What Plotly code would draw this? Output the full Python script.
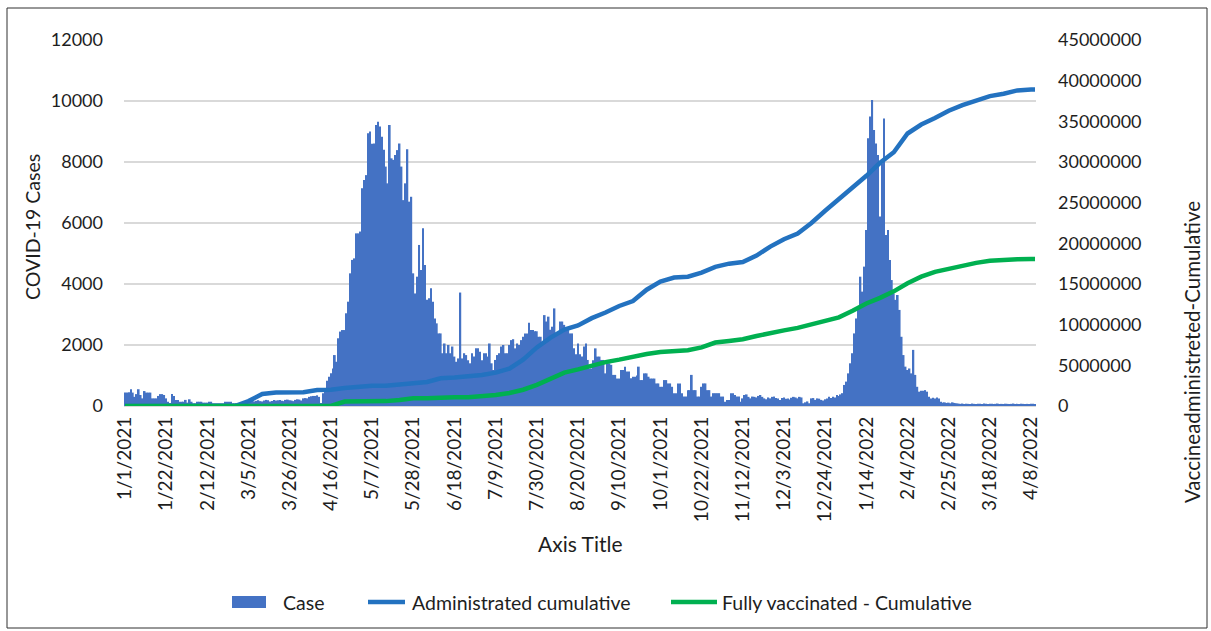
import pandas as pd
import plotly.graph_objects as go

# Daily COVID-19 cases, 1/1/2021 .. 4/10/2022
start_date = "2021-01-01"
cases = [
    440, 440, 450, 550, 440, 300, 390, 550, 360, 250,
    490, 440, 440, 440, 250, 250, 250, 330, 390, 390,
    360, 250, 140, 100, 390, 330, 200, 200, 140, 140,
    140, 200, 110, 220, 140, 90, 90, 140, 140, 140,
    110, 110, 110, 140, 140, 90, 90, 90, 90, 90,
    90, 140, 140, 140, 140, 90, 90, 90, 90, 90,
    110, 160, 150, 180, 150, 200, 150, 170, 190, 160,
    150, 180, 200, 190, 150, 160, 200, 180, 190, 200,
    170, 160, 200, 210, 190, 180, 160, 200, 220, 210,
    180, 250, 260, 250, 300, 320, 330, 330, 350, 300,
    100, 415, 580, 830, 960, 1070, 1230, 1670, 1450, 2220,
    2440, 2490, 2490, 3040, 3420, 4350, 4790, 4840, 5660, 5660,
    5720, 7140, 7410, 7570, 8940, 9000, 8600, 8610, 9210, 9320,
    9160, 8830, 8400, 7850, 7300, 9210, 8120, 8070, 8230, 8390,
    8610, 7850, 6750, 7300, 8420, 6700, 6860, 4350, 3690, 4240,
    5280, 4460, 5830, 4620, 3480, 3530, 3860, 3420, 2870, 2710,
    2380, 2380, 1730, 2050, 1730, 2000, 1730, 1950, 1620, 1450,
    1560, 3720, 1560, 1730, 1670, 1500, 1400, 1730, 1620, 1890,
    1890, 1780, 1500, 1730, 1730, 1620, 2050, 1400, 1180, 1510,
    1670, 1730, 1950, 2000, 1730, 1730, 2000, 2160, 2190, 1890,
    2050, 2000, 2160, 2270, 2380, 2380, 2730, 2490, 2490, 2450,
    2450, 2270, 2270, 2000, 2980, 2770, 2930, 2500, 2600, 3200,
    2380, 2380, 2770, 2770, 2660, 2490, 2490, 2380, 2380, 1890,
    1700, 2050, 1700, 1620, 1950, 2050, 1510, 1230, 1230, 1500,
    1890, 1620, 1620, 1510, 1510, 1070, 1400, 1400, 1350, 1020,
    1020, 900, 900, 1180, 1180, 1290, 1130, 1130, 910, 960,
    960, 1000, 1290, 850, 850, 1070, 1070, 960, 900, 900,
    900, 740, 740, 630, 630, 850, 850, 740, 740, 630,
    420, 420, 740, 740, 420, 310, 310, 520, 520, 1020,
    520, 520, 310, 310, 630, 740, 740, 520, 520, 310,
    420, 420, 420, 420, 310, 310, 140, 200, 200, 420,
    420, 360, 310, 310, 140, 250, 360, 380, 300, 250,
    310, 300, 280, 330, 360, 300, 250, 220, 280, 250,
    300, 310, 260, 250, 200, 260, 280, 240, 250, 210,
    270, 300, 280, 250, 300, 280, 90, 120, 150, 90,
    250, 260, 200, 250, 240, 200, 180, 220, 250, 300,
    260, 300, 280, 360, 330, 380, 420, 690, 800, 1070,
    1400, 1730, 2380, 2870, 3150, 4240, 3750, 4570, 5770, 8780,
    9490, 10030, 9050, 8610, 8230, 6210, 7960, 9430, 5610, 5770,
    4790, 4130, 3690, 3480, 3640, 3150, 2270, 1670, 1290, 1180,
    1230, 1070, 1840, 1020, 630, 470, 500, 500, 520, 470,
    300, 250, 270, 250, 280, 250, 140, 110, 120, 100,
    110, 90, 120, 100, 90, 80, 70, 80, 60, 75,
    70, 65, 80, 70, 60, 75, 70, 65, 80, 70,
    60, 70, 75, 65, 70, 80, 60, 70, 65, 75,
    70, 60, 70, 80, 65, 70, 60, 75, 70, 65,
    70, 60, 75, 70, 65,
]
case_dates = pd.date_range(start_date, periods=len(cases), freq="D")

# Weekly vaccination totals (every 7 days from 1/1/2021, plus the last report day)
vax_dates = list(pd.date_range(start_date, periods=67, freq="7D")) + [pd.Timestamp("2022-04-10")]
administered_cum = [
    0, 0, 0, 0, 0, 0, 0, 0, 0,
    600000, 1470000, 1650000, 1650000, 1700000, 1970000, 2000000, 2200000, 2400000, 2500000,
    2500000, 2600000, 2800000, 2950000, 3400000, 3500000, 3600000, 3800000, 4100000, 4600000,
    5700000, 7200000, 8400000, 9400000, 9900000, 10800000, 11500000, 12300000, 12900000, 14300000,
    15300000, 15800000, 15900000, 16400000, 17100000, 17500000, 17700000, 18500000, 19600000, 20500000,
    21200000, 22500000, 24000000, 25400000, 26800000, 28300000, 29900000, 31200000, 33500000, 34600000,
    35400000, 36300000, 37000000, 37600000, 38100000, 38400000, 38800000, 38900000,
    38900000,
]
fully_vaccinated_cum = [
    0, 0, 0, 0, 0, 0, 0, 0, 0, 0, 0, 0, 0, 0, 0, 0,
    550000, 550000, 550000, 600000, 750000, 940000, 940000, 1070000, 1070000, 1070000,
    1150000, 1350000, 1600000, 2000000, 2600000, 3400000, 4100000, 4500000, 5000000, 5400000,
    5700000, 6100000, 6400000, 6650000, 6750000, 6850000, 7200000, 7800000, 8000000, 8200000,
    8600000, 9000000, 9300000, 9600000, 10000000, 10400000, 10900000, 11700000, 12600000, 13300000,
    14100000, 15100000, 15900000, 16500000, 16900000, 17300000, 17600000, 17850000, 18000000, 18050000,
    18070000,
    18070000,
]

# Axis ticks
x_tick_dates = list(pd.date_range(start_date, "2022-04-08", freq="21D"))
x_tick_labels = [
    "1/1/2021", "1/22/2021", "2/12/2021", "3/5/2021", "3/26/2021", "4/16/2021",
    "5/7/2021", "5/28/2021", "6/18/2021", "7/9/2021", "7/30/2021", "8/20/2021",
    "9/10/2021", "10/1/2021", "10/22/2021", "11/12/2021", "12/3/2021", "12/24/2021",
    "1/14/2022", "2/4/2022", "2/25/2022", "3/18/2022", "4/8/2022",
]
left_ticks = [0, 2000, 4000, 6000, 8000, 10000, 12000]
right_ticks = [0, 5000000, 10000000, 15000000, 20000000, 25000000, 30000000, 35000000, 40000000, 45000000]

series_names = ["Case", "Administrated cumulative", "Fully vaccinated - Cumulative"]
series_colors = ["#4472C4", "#2372C0", "#00B050"]

FONT = "Lato"
TXT = "#1e1e1e"

fig = go.Figure()
fig.add_trace(go.Bar(
    x=case_dates, y=cases, name=series_names[0],
    marker=dict(color=series_colors[0], line=dict(width=0)),
))
fig.add_trace(go.Scatter(
    x=vax_dates, y=administered_cum, name=series_names[1],
    mode="lines", line=dict(color=series_colors[1], width=4.5), yaxis="y2",
))
fig.add_trace(go.Scatter(
    x=vax_dates, y=fully_vaccinated_cum, name=series_names[2],
    mode="lines", line=dict(color=series_colors[2], width=4.5), yaxis="y2",
))

W, H = 1211, 631
L, R, T, B = 124, 175, 40, 225
pw, ph = W - L - R, H - T - B


def px_x(x):
    return (x - L) / pw


def px_y(y):
    return (H - B - y) / ph


# Legend row drawn below the axis title: swatch + label per series
legend_y = 602
shapes = [
    dict(type="rect", xref="paper", yref="paper",
         x0=px_x(7), x1=px_x(1207), y0=px_y(628), y1=px_y(8),
         line=dict(color="#303030", width=1), fillcolor="rgba(0,0,0,0)", layer="below"),
    dict(type="rect", xref="paper", yref="paper",
         x0=px_x(232), x1=px_x(266), y0=px_y(608), y1=px_y(596),
         line=dict(width=0), fillcolor=series_colors[0]),
    dict(type="line", xref="paper", yref="paper",
         x0=px_x(368), x1=px_x(405), y0=px_y(legend_y), y1=px_y(legend_y),
         line=dict(color=series_colors[1], width=4.5)),
    dict(type="line", xref="paper", yref="paper",
         x0=px_x(671), x1=px_x(717), y0=px_y(legend_y), y1=px_y(legend_y),
         line=dict(color=series_colors[2], width=4.5)),
]
legend_text_x = [281, 410, 720]

annotations = [
    dict(text="COVID-19 Cases", xref="paper", yref="paper",
         x=px_x(32), y=px_y(227), textangle=-90, showarrow=False,
         xanchor="center", yanchor="middle", font=dict(size=19.5, color=TXT)),
    dict(text="Vaccineadministreted-Cumulative", xref="paper", yref="paper",
         x=px_x(1192), y=px_y(352), textangle=-90, showarrow=False,
         xanchor="center", yanchor="middle", font=dict(size=20.5, color=TXT)),
    dict(text="Axis Title", xref="paper", yref="paper",
         x=px_x(580), y=px_y(543), showarrow=False,
         xanchor="center", yanchor="middle", font=dict(size=21, color=TXT)),
]
for name, tx in zip(series_names, legend_text_x):
    annotations.append(dict(
        text=name, xref="paper", yref="paper", x=px_x(tx), y=px_y(legend_y),
        xanchor="left", yanchor="middle", showarrow=False,
        font=dict(size=19.5, color=TXT),
    ))

fig.update_layout(
    width=W, height=H,
    margin=dict(l=L, r=R, t=T, b=B, pad=0),
    paper_bgcolor="white", plot_bgcolor="white",
    font=dict(family=FONT, size=18, color=TXT),
    bargap=0.12,
    showlegend=False,
    xaxis=dict(
        type="date",
        range=["2020-12-31 12:00", "2022-04-10 12:00"],
        tickvals=x_tick_dates, ticktext=x_tick_labels,
        tickangle=-90, showgrid=False, zeroline=False,
        showline=False, ticks="", ticklabelstandoff=6,
        tickfont=dict(size=19, color=TXT),
    ),
    yaxis=dict(
        range=[0, 12000], tickvals=left_ticks, tickformat="d",
        showgrid=True, gridcolor="#d9d9d9", gridwidth=1.5,
        zeroline=True, zerolinecolor="#d9d9d9", zerolinewidth=1.5,
        showline=False, ticks="", ticklabelstandoff=20,
        tickfont=dict(size=18, color=TXT),
    ),
    yaxis2=dict(
        range=[0, 45000000], tickvals=right_ticks, tickformat="d",
        overlaying="y", side="right", showgrid=False, zeroline=False,
        showline=False, ticks="", ticklabelstandoff=21,
        tickfont=dict(size=18, color=TXT),
    ),
    annotations=annotations,
    shapes=shapes,
)

fig.write_html("out.html")
